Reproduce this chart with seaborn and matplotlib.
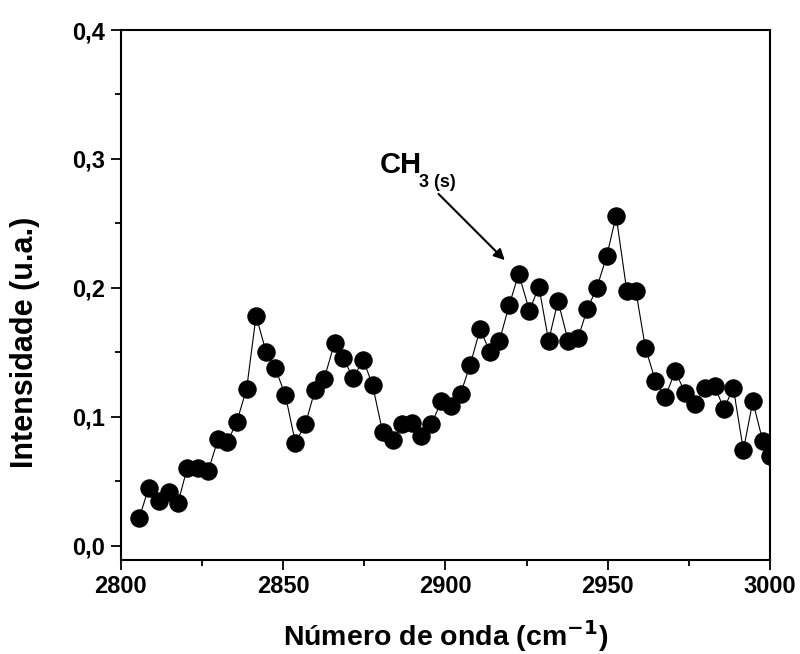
import matplotlib
matplotlib.use("Agg")
import matplotlib.pyplot as plt
import seaborn as sns
import pandas as pd
from matplotlib.ticker import MultipleLocator, FuncFormatter

wavenumber = [2805.7, 2808.6, 2811.7, 2814.8, 2817.6, 2820.5, 2823.8, 2826.9, 2830.0, 2832.8,
              2835.7, 2838.8, 2841.7, 2844.8, 2847.6, 2850.7, 2853.8, 2856.9, 2859.8, 2862.6,
              2865.9, 2868.6, 2871.6, 2874.7, 2877.6, 2880.7, 2883.8, 2886.6, 2889.7, 2892.6,
              2895.7, 2898.8, 2901.8, 2904.7, 2907.6, 2910.7, 2913.8, 2916.6, 2919.7, 2922.6,
              2925.9, 2928.8, 2931.8, 2934.7, 2937.8, 2940.9, 2943.7, 2946.6, 2949.7, 2952.6,
              2955.9, 2958.7, 2961.6, 2964.7, 2967.7, 2970.8, 2973.9, 2976.8, 2979.9, 2983.0,
              2985.8, 2988.7, 2991.8, 2994.7, 2997.8, 3000.0]
intensity = [0.0215, 0.0449, 0.0349, 0.0420, 0.0330, 0.0605, 0.0600, 0.0577, 0.0828, 0.0803,
             0.0957, 0.1220, 0.1785, 0.1500, 0.1377, 0.1170, 0.0800, 0.0944, 0.1205, 0.1290,
             0.1575, 0.1454, 0.1300, 0.1444, 0.1244, 0.0880, 0.0820, 0.0944, 0.0954, 0.0850,
             0.0944, 0.1123, 0.1082, 0.1180, 0.1400, 0.1680, 0.1500, 0.1585, 0.1870, 0.2110,
             0.1823, 0.2010, 0.1592, 0.1898, 0.1592, 0.1615, 0.1834, 0.1998, 0.2246, 0.2560,
             0.1975, 0.1975, 0.1538, 0.1280, 0.1152, 0.1354, 0.1185, 0.1098, 0.1226, 0.1236,
             0.1062, 0.1226, 0.0742, 0.1120, 0.0810, 0.0700]

xticks = [2800, 2850, 2900, 2950, 3000]
yticks = [0.0, 0.1, 0.2, 0.3, 0.4]

df = pd.DataFrame({"x": wavenumber, "y": intensity})

sns.set_theme(style="ticks")
plt.rcParams["font.family"] = ["Liberation Sans", "DejaVu Sans"]
plt.rcParams["font.weight"] = "bold"
for k in ["text.color", "axes.labelcolor", "xtick.color", "ytick.color", "axes.edgecolor"]:
    plt.rcParams[k] = "black"

fig = plt.figure(figsize=(8.0, 6.54), dpi=100)
ax = fig.add_axes([0.1509, 0.1437, 0.8116, 0.8104])

sns.lineplot(data=df, x="x", y="y", sort=False, ax=ax, color="black", linewidth=0.8,
             marker="o", markersize=12.5, markeredgecolor="black", markerfacecolor="black")

ax.set_xlim(2800, 3000)
ax.set_ylim(-0.011, 0.4)
ax.set_xticks(xticks)
ax.set_yticks(yticks)
ax.xaxis.set_minor_locator(MultipleLocator(25))
ax.yaxis.set_minor_locator(MultipleLocator(0.05))
ax.yaxis.set_major_formatter(FuncFormatter(lambda v, p: f"{v:.1f}".replace(".", ",")))
ax.tick_params(which="major", direction="out", length=7, width=1.3, labelsize=17,
               top=False, right=False, pad=4)
ax.tick_params(which="minor", direction="out", length=4, width=1.3, top=False, right=False)
for lab in ax.get_xticklabels() + ax.get_yticklabels():
    lab.set_fontweight("bold")
for s in ax.spines.values():
    s.set_visible(True)
    s.set_linewidth(1.5)
    s.set_color("black")

ax.set_xlabel("Número de onda (cm$^{\\mathbf{-1}}$)", fontsize=20.5, fontweight="bold", labelpad=14)
ax.set_ylabel("Intensidade (u.a.)", fontsize=22, fontweight="bold")
ax.yaxis.set_label_coords(-0.124, 0.41)

ax.text(2879.9, 0.289, "CH", fontsize=21, fontweight="bold", ha="left", va="baseline")
ax.text(2892.0, 0.2785, "3 (s)", fontsize=13, fontweight="bold", ha="left", va="baseline")
ax.annotate("", xy=(2918.9, 0.220), xytext=(2897.3, 0.2744),
            arrowprops=dict(arrowstyle="-|>", color="black", lw=1.5, mutation_scale=16))

fig.savefig("out.png", dpi=100)
